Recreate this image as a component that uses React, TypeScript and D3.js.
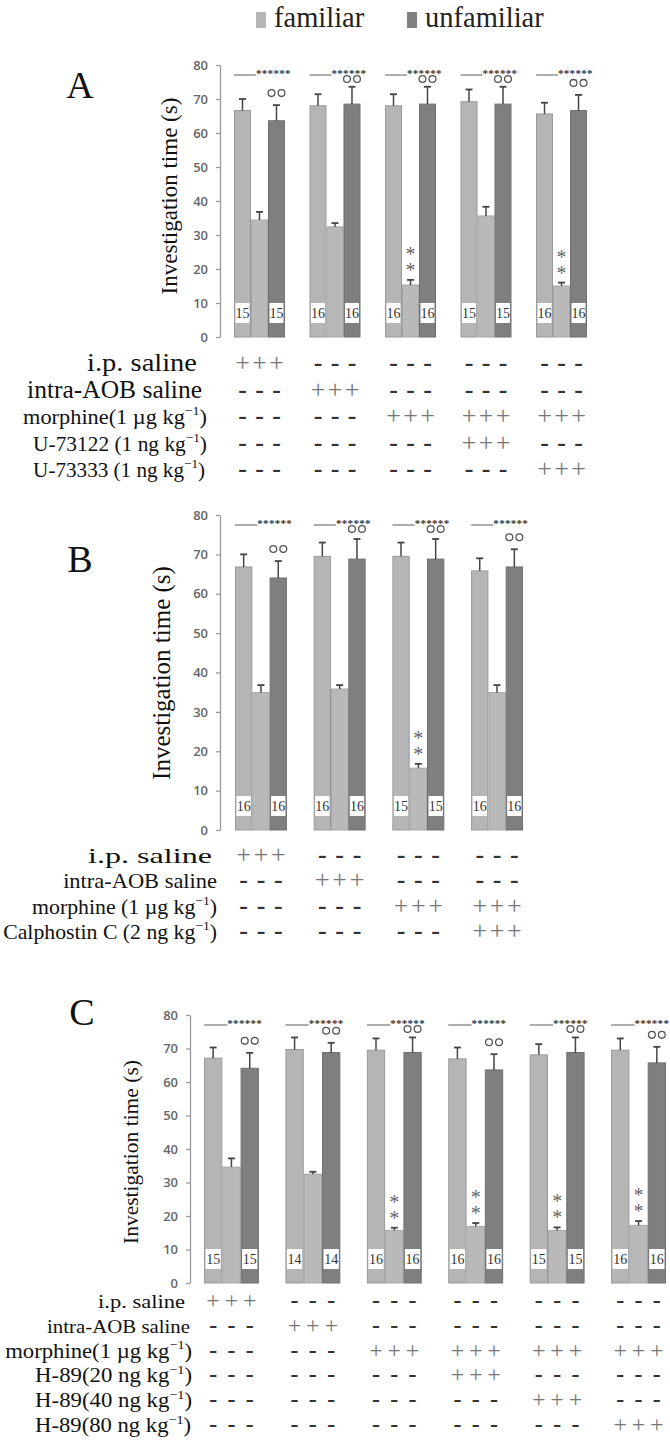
import { useEffect, useRef } from "react";
import * as d3 from "d3";

// ---- panel A: PLC (U-73122 / U-73333) ----
const aFam1 = [66.6, 68.0, 68.0, 69.2, 65.6];
const aFam1Sem = [3.4, 3.4, 3.4, 3.6, 3.3];
const aFam2 = [34.4, 32.4, 15.3, 35.6, 15.0];
const aFam2Sem = [2.4, 1.1, 1.5, 2.7, 1.0];
const aUnfam = [63.6, 68.5, 68.5, 68.5, 66.6];
const aUnfamSem = [4.6, 5.1, 5.1, 5.1, 4.6];
const aN = [15, 16, 16, 15, 16];
const aStar = [false, false, true, false, true];
const aRowLabels = ["i.p. saline", "intra-AOB saline", "morphine(1 µg kg^−1^)", "U-73122 (1 ng kg^−1^)", "U-73333 (1 ng kg^−1^)"];
const aRowSigns = ["+----", "-+---", "--+++", "---+-", "----+"];

// ---- panel B: PKC (Calphostin C) ----
const bFam1 = [66.8, 69.5, 69.5, 65.8];
const bFam1Sem = [3.2, 3.5, 3.5, 3.2];
const bFam2 = [34.9, 35.8, 15.7, 34.9];
const bFam2Sem = [1.9, 1.0, 1.1, 1.9];
const bUnfam = [64.0, 68.8, 68.8, 66.8];
const bUnfamSem = [4.3, 5.1, 5.1, 4.5];
const bN = [16, 16, 15, 16];
const bStar = [false, false, true, false];
const bRowLabels = ["i.p. saline", "intra-AOB saline", "morphine (1 µg kg^−1^)", "Calphostin C (2 ng kg^−1^)"];
const bRowSigns = ["+---", "-+--", "--++", "---+"];

// ---- panel C: PKA (H-89) ----
const cFam1 = [67.1, 69.7, 69.5, 66.9, 68.1, 69.5];
const cFam1Sem = [3.2, 3.6, 3.5, 3.4, 3.2, 3.5];
const cFam2 = [34.6, 32.5, 15.7, 16.9, 15.7, 17.2];
const cFam2Sem = [2.6, 0.7, 0.8, 1.0, 0.9, 1.3];
const cUnfam = [64.1, 68.8, 68.8, 63.6, 68.8, 65.7];
const cUnfamSem = [4.6, 2.9, 4.5, 4.7, 4.5, 4.8];
const cN = [15, 14, 16, 16, 15, 16];
const cStar = [false, false, true, true, true, true];
const cRowLabels = [
  "i.p. saline",
  "intra-AOB saline",
  "morphine(1 µg kg^−1^)",
  "H-89(20 ng kg^−1^)",
  "H-89(40 ng kg^−1^)",
  "H-89(80 ng kg^−1^)",
];
const cRowSigns = ["+-----", "-+----", "--++++", "---+--", "----+-", "-----+"];

const yTicks = [0, 10, 20, 30, 40, 50, 60, 70, 80];
const legendItems = ["familiar", "unfamiliar"];

const SERIF = "'Liberation Serif', 'Times New Roman', serif";
const LIGHT = "#b5b5b5";
const DARK = "#7f7f7f";

const panels = [
  {
    letter: "A", letterX: 80, letterY: 98,
    top: 65, bottom: 337, axisX: 220, xRange: [234, 587], padInner: 0.325,
    titleX: 177, titleY: 196, titleSize: 23,
    rowY0: 371, rowStep: 26.5, signSize: 26,
    labelRight: [197, 202, 207, 207, 205], labelWidth: [110, 175, 184, 174, 172], labelSizes: [25, 25, 21, 21, 21],
    fam1: aFam1, fam1Sem: aFam1Sem, fam2: aFam2, fam2Sem: aFam2Sem, unfam: aUnfam, unfamSem: aUnfamSem,
    n: aN, star: aStar, rowLabels: aRowLabels, rowSigns: aRowSigns,
  },
  {
    letter: "B", letterX: 80, letterY: 572,
    top: 515, bottom: 830, axisX: 220, xRange: [235, 523], padInner: 0.34,
    titleX: 170, titleY: 673, titleSize: 25,
    rowY0: 863, rowStep: 25.3, signSize: 26,
    labelRight: [212, 217, 217, 217], labelWidth: [124, 154, 185, 214], labelSizes: [22, 21, 21, 21],
    fam1: bFam1, fam1Sem: bFam1Sem, fam2: bFam2, fam2Sem: bFam2Sem, unfam: bUnfam, unfamSem: bUnfamSem,
    n: bN, star: bStar, rowLabels: bRowLabels, rowSigns: bRowSigns,
  },
  {
    letter: "C", letterX: 82, letterY: 1025,
    top: 1015, bottom: 1283, axisX: 190, xRange: [204, 666], padInner: 0.326,
    titleX: 138, titleY: 1152, titleSize: 21.5,
    rowY0: 1308, rowStep: 24.8, signSize: 24,
    labelRight: [185, 190, 192, 192, 192, 191], labelWidth: [87, 143, 187, 157, 157, 156], labelSizes: [19, 18, 20, 20, 20, 20],
    fam1: cFam1, fam1Sem: cFam1Sem, fam2: cFam2, fam2Sem: cFam2Sem, unfam: cUnfam, unfamSem: cUnfamSem,
    n: cN, star: cStar, rowLabels: cRowLabels, rowSigns: cRowSigns,
  },
];

function drawPanel(svg, p) {
  const g = svg.append("g");
  const y = d3.scaleLinear().domain([0, 80]).range([p.bottom, p.top]);
  const x0 = d3.scaleBand().domain(d3.range(p.fam1.length)).range(p.xRange).paddingInner(p.padInner);
  const x1 = d3.scaleBand().domain(["fam1", "fam2", "unfam"]).range([0, x0.bandwidth()]);
  const bw = x1.bandwidth();

  g.append("text")
    .attr("x", p.letterX)
    .attr("y", p.letterY)
    .attr("text-anchor", "middle")
    .attr("font-family", SERIF)
    .attr("font-size", 38)
    .attr("fill", "#111")
    .text(p.letter);

  g.append("text")
    .attr("transform", `translate(${p.titleX},${p.titleY}) rotate(-90)`)
    .attr("text-anchor", "middle")
    .attr("font-family", SERIF)
    .attr("font-size", p.titleSize)
    .attr("fill", "#111")
    .text("Investigation time (s)");

  const ax = g
    .append("g")
    .attr("transform", `translate(${p.axisX},0)`)
    .call(d3.axisLeft(y).tickValues(yTicks).tickSize(4).tickSizeOuter(0).tickPadding(8));
  ax.select(".domain").attr("stroke", "#9a9a9a").attr("stroke-width", 1.3);
  ax.selectAll(".tick line").attr("stroke", "#9a9a9a").attr("stroke-width", 1.3);
  ax.selectAll(".tick text")
    .attr("font-family", "'Open Sans', sans-serif")
    .attr("font-weight", 600)
    .attr("font-size", 13)
    .attr("fill", "#666");

  const series = [
    { key: "fam1", vals: p.fam1, sem: p.fam1Sem, fill: LIGHT, stroke: "#999" },
    { key: "fam2", vals: p.fam2, sem: p.fam2Sem, fill: "#b9b9b9", stroke: "#a8a8a8" },
    { key: "unfam", vals: p.unfam, sem: p.unfamSem, fill: DARK, stroke: "#707070" },
  ];

  const grp = g
    .selectAll(".grp")
    .data(d3.range(p.fam1.length))
    .join("g")
    .attr("transform", (i) => `translate(${x0(i)},0)`);

  series.forEach((s) => {
    grp
      .append("rect")
      .attr("x", x1(s.key) + 0.5)
      .attr("width", bw - 1)
      .attr("y", (i) => y(s.vals[i]))
      .attr("height", (i) => y(0) - y(s.vals[i]))
      .attr("fill", s.fill)
      .attr("stroke", s.stroke)
      .attr("stroke-width", 1);

    const cx = x1(s.key) + bw / 2;
    grp
      .append("line")
      .attr("x1", cx)
      .attr("x2", cx)
      .attr("y1", (i) => y(s.vals[i]))
      .attr("y2", (i) => y(s.vals[i] + s.sem[i]))
      .attr("stroke", "#444")
      .attr("stroke-width", 1.5);
    grp
      .append("line")
      .attr("x1", cx - 3.5)
      .attr("x2", cx + 3.5)
      .attr("y1", (i) => y(s.vals[i] + s.sem[i]))
      .attr("y2", (i) => y(s.vals[i] + s.sem[i]))
      .attr("stroke", "#444")
      .attr("stroke-width", 1.8);
  });

  // n boxes on first and third bar
  ["fam1", "unfam"].forEach((k) => {
    grp
      .append("rect")
      .attr("x", x1(k) + 1.5)
      .attr("width", bw - 3)
      .attr("y", y(0) - 34)
      .attr("height", 20)
      .attr("fill", "#fff");
    grp
      .append("text")
      .attr("x", x1(k) + bw / 2)
      .attr("y", y(0) - 19)
      .attr("text-anchor", "middle")
      .attr("font-family", SERIF)
      .attr("font-size", 14)
      .attr("fill", "#333")
      .text((i) => p.n[i]);
  });

  // comparison line and asterisks
  const lineY = y(80) + 10;
  grp
    .append("line")
    .attr("x1", x1("fam1"))
    .attr("x2", x1("fam1") + bw + 5)
    .attr("y1", lineY)
    .attr("y2", lineY)
    .attr("stroke", "#9a9a9a")
    .attr("stroke-width", 1.6);
  grp
    .append("text")
    .attr("x", x1("fam2") + 5)
    .attr("y", lineY + 2)
    .attr("font-family", SERIF)
    .attr("font-weight", "bold")
    .attr("font-size", 11)
    .attr("letter-spacing", 0.3)
    .attr("fill", "#333")
    .text("******");

  // open circles above unfamiliar bar
  const ooY = (i) => Math.max(y(p.unfam[i] + p.unfamSem[i]) - 12, lineY + 4);
  [-5, 5].forEach((dx) => {
    grp
      .append("circle")
      .attr("cx", x1("unfam") + bw / 2 + dx)
      .attr("cy", ooY)
      .attr("r", 3.4)
      .attr("fill", "none")
      .attr("stroke", "#555")
      .attr("stroke-width", 1.3);
  });

  // ** stacked above second familiar bar
  const st = grp
    .filter((i) => p.star[i])
    .append("text")
    .attr("text-anchor", "middle")
    .attr("font-family", SERIF)
    .attr("font-size", 20)
    .attr("fill", "#666");
  st.append("tspan")
    .attr("x", x1("fam2") + bw / 2)
    .attr("y", (i) => y(p.fam2[i] + p.fam2Sem[i]) - 28 + 9)
    .text("*");
  st.append("tspan")
    .attr("x", x1("fam2") + bw / 2)
    .attr("dy", 16)
    .text("*");

  // treatment table
  p.rowLabels.forEach((lab, r) => {
    const ry = p.rowY0 + r * p.rowStep;
    const fs = p.labelSizes[r];
    const parts = lab.split("^");
    const t = g
      .append("text")
      .attr("x", 0)
      .attr("y", 0)
      .attr("text-anchor", "end")
      .attr("font-family", SERIF)
      .attr("font-size", fs)
      .attr("fill", "#111");
    t.append("tspan").text(parts[0]);
    if (parts.length > 1) {
      t.append("tspan").attr("dy", -fs * 0.42).attr("font-size", fs * 0.62).text(parts[1]);
      t.append("tspan").attr("dy", fs * 0.42).text(parts[2]);
    }
    // the original lettering is set wide; stretch to the measured width
    const natural = t.node().getComputedTextLength() || p.labelWidth[r];
    const sx = p.labelWidth[r] / natural;
    t.attr("transform", `translate(${p.labelRight[r]},${ry}) scale(${sx},1)`);

    const signs = p.rowSigns[r].split("");
    signs.forEach((sg, gi) => {
      ["fam1", "fam2", "unfam"].forEach((k) => {
        g.append("text")
          .attr("x", x0(gi) + x1(k) + bw / 2)
          .attr("y", ry)
          .attr("text-anchor", "middle")
          .attr("font-family", SERIF)
          .attr("font-size", p.signSize)
          .attr("font-weight", sg === "+" ? "normal" : "bold")
          .attr("fill", sg === "+" ? "#777" : "#333")
          .text(sg);
      });
    });
  });
}

function renderFigure(ref) {
  const svg = d3.select(ref.current);
  svg.selectAll("*").remove();

  // legend
  const lx = [256, 407];
  legendItems.forEach((name, i) => {
    svg
      .append("rect")
      .attr("x", lx[i])
      .attr("y", 12)
      .attr("width", 10)
      .attr("height", 16)
      .attr("fill", i === 0 ? LIGHT : DARK);
    svg
      .append("text")
      .attr("x", lx[i] + 18)
      .attr("y", 27)
      .attr("font-family", SERIF)
      .attr("font-size", 28.5)
      .attr("fill", "#222")
      .text(name);
  });

  panels.forEach((p) => drawPanel(svg, p));
}

export default function App() {
  const ref = useRef(null);
  useEffect(() => {
    if (ref.current) renderFigure(ref);
  }, []);
  return (
    <svg
      ref={ref}
      width={670}
      height={1442}
      style={{ position: "absolute", left: 0, top: 0, background: "#fff" }}
    />
  );
}
